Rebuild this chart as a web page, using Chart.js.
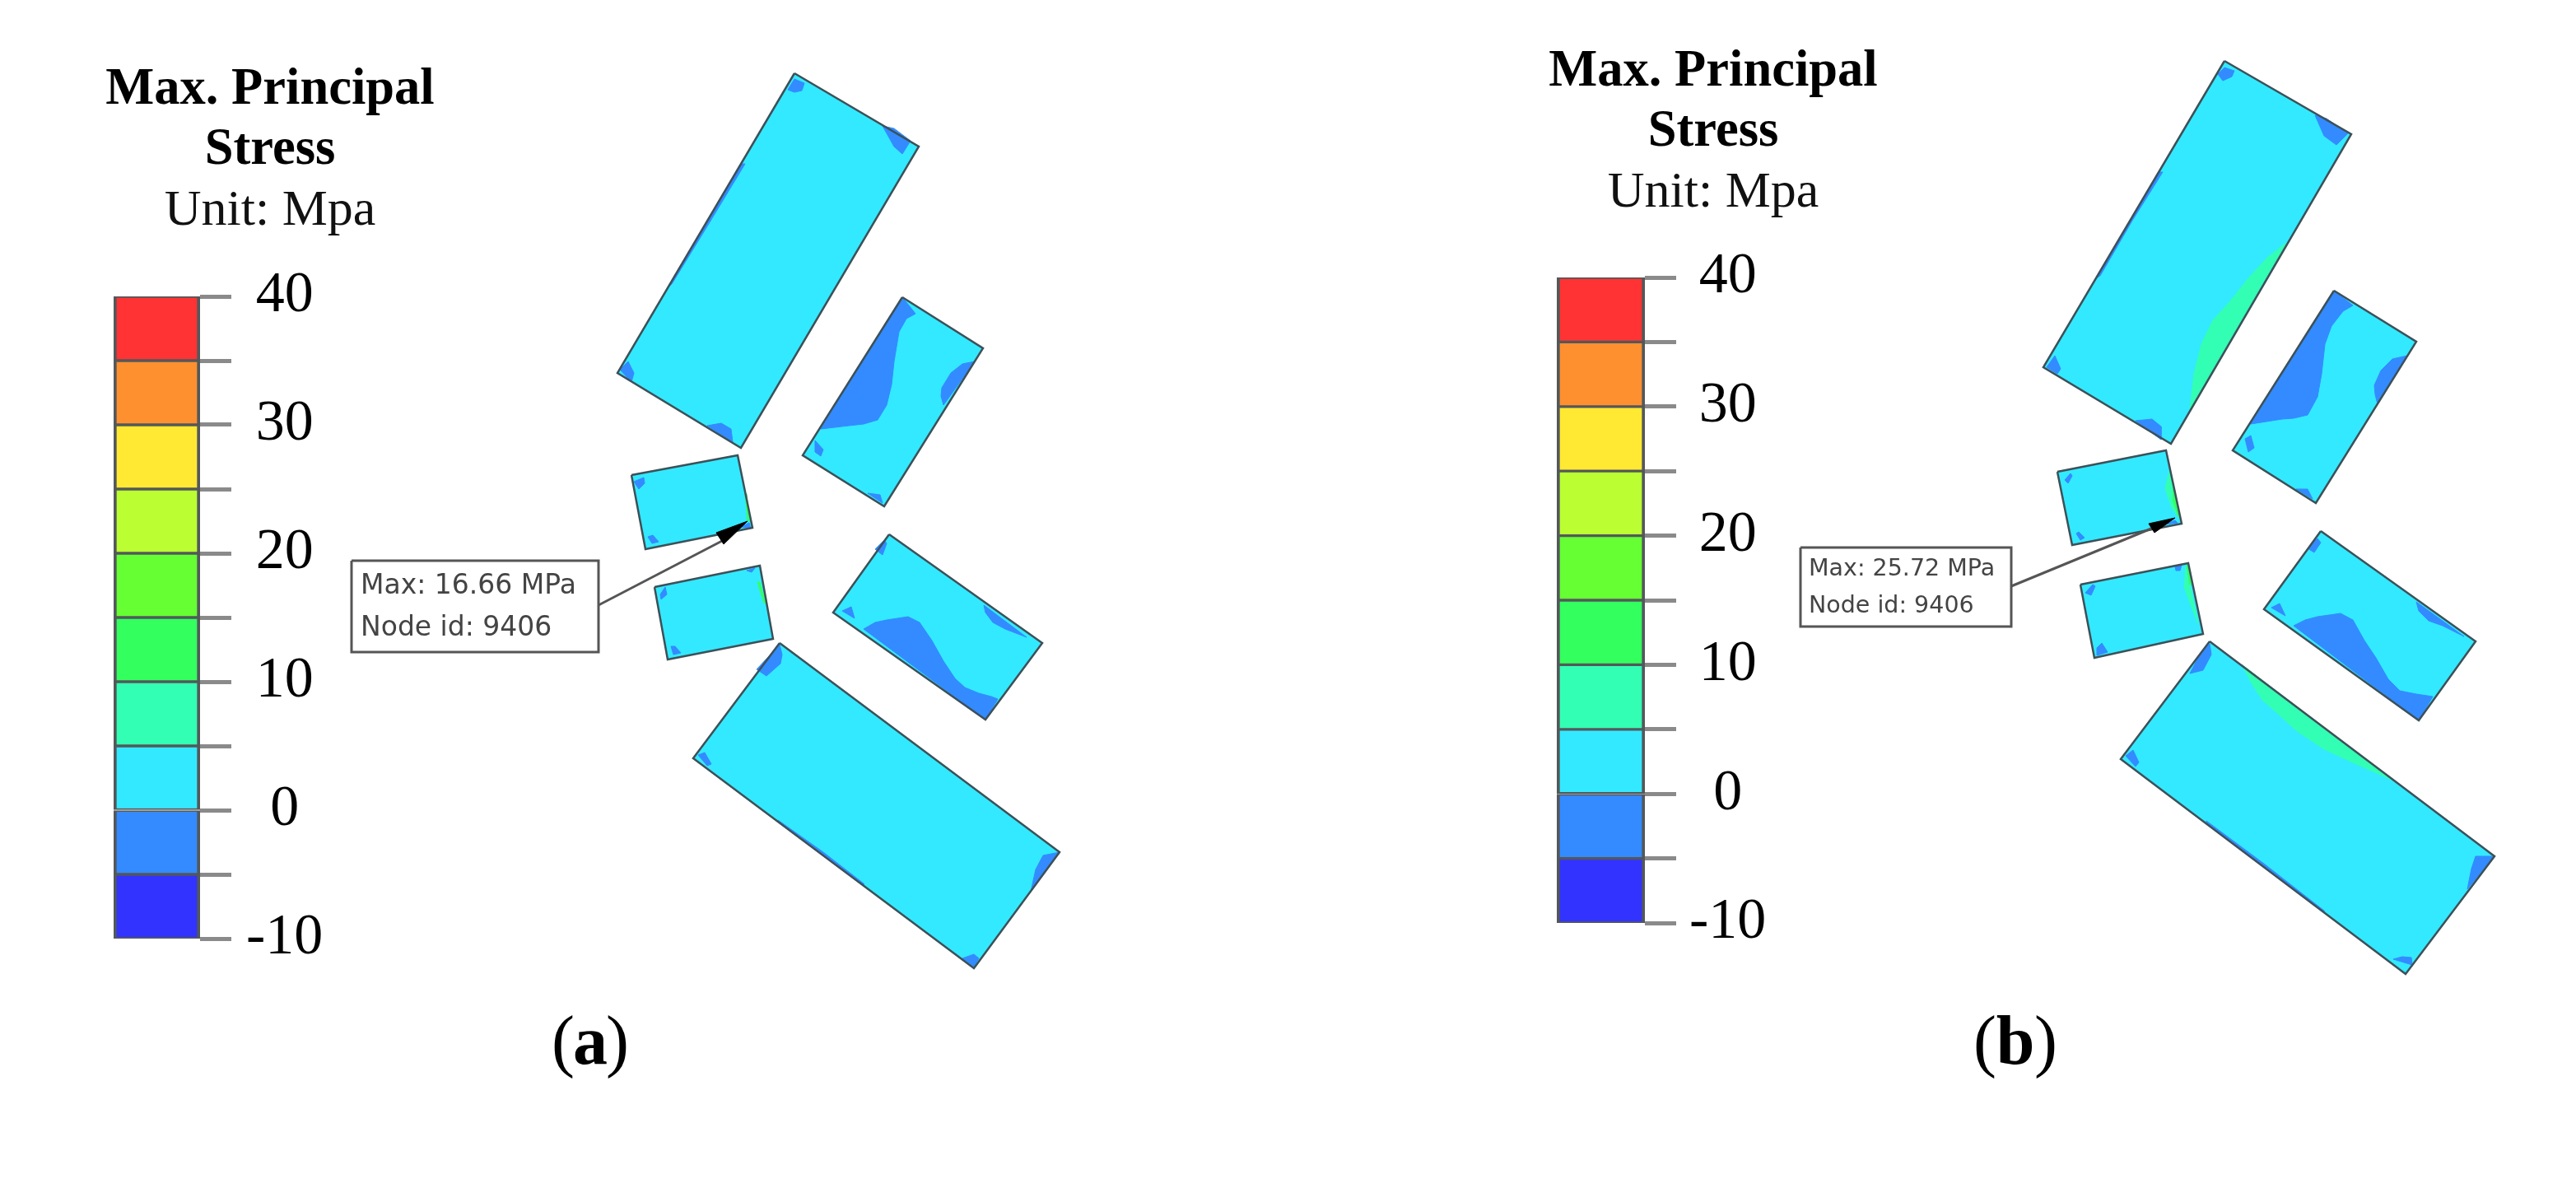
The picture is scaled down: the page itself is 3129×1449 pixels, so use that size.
<!DOCTYPE html>
<html>
<head>
<meta charset="utf-8">
<title>Max. Principal Stress</title>
<script src="https://cdn.jsdelivr.net/npm/chart.js@4"></script>
<style>
    html, body { margin: 0; padding: 0; background: #fff; overflow: hidden; }
    canvas { position: absolute; }
</style>
</head>
<body>
<canvas id="blocks" width="3129" height="1449" style="left:0;top:0"></canvas>
<canvas id="scaleA"></canvas>
<canvas id="scaleB"></canvas>
<script>
// colour scale
const bandEdges = [-10, -5, 0, 5, 10, 15, 20, 25, 30, 35, 40];
const bandColors = ['#3333ff', '#338bff', '#33e9ff', '#33ffb4', '#33ff5f', '#66ff33', '#bbff33', '#ffe933', '#ff9030', '#ff3333'];
const tickLabels = ['-10', '0', '10', '20', '30', '40'];

// texts
const titleBold = ['Max. Principal', 'Stress'];
const titleUnit = 'Unit: Mpa';
const calloutA = ['Max: 16.66 MPa', 'Node id: 9406'];
const calloutB = ['Max: 25.72 MPa', 'Node id: 9406'];

// panel (a), corners
const outlinesA = [
    [[965, 89], [1116, 178], [900, 544], [750, 453]],
    [[1096, 361], [1194, 423], [1074, 615], [975, 553]],
    [[767, 577], [896, 553], [914, 641], [784, 667]],
    [[795, 713], [923, 687], [939, 776], [811, 801]],
    [[1080, 649], [1266, 781], [1197, 874], [1012, 744]],
    [[947, 781], [1287, 1035], [1183, 1176], [842, 921]]
];
const lowPatchesA = [
    [[957, 109], [965, 96], [977, 101], [974, 110], [965, 112]],
    [[1072, 153], [1086, 156], [1106, 171], [1096, 187], [1086, 178]],
    [[753, 449], [763, 439], [770, 453], [767, 464]],
    [[859, 517], [876, 514], [888, 521], [890, 537]],
    [[900, 199], [811, 349], [816, 345], [862, 270], [905, 199]],
    [[1096, 361], [1112, 381], [1101, 387], [1092, 403], [1086, 439], [1083, 467], [1077, 492], [1066, 510], [1049, 515], [1031, 517], [997, 521]],
    [[1184, 439], [1169, 442], [1155, 453], [1144, 471], [1143, 481], [1146, 492]],
    [[990, 535], [1000, 546], [997, 554], [990, 549]],
    [[1054, 599], [1069, 601], [1072, 611]],
    [[770, 585], [782, 580], [783, 587], [776, 594]],
    [[787, 652], [793, 650], [800, 658], [792, 660]],
    [[900, 640], [910, 635], [912, 642]],
    [[802, 722], [808, 713], [810, 722], [803, 728]],
    [[815, 785], [820, 785], [827, 793], [818, 795]],
    [[907, 693], [917, 690], [913, 695]],
    [[1049, 764], [1063, 756], [1077, 753], [1103, 749], [1117, 756], [1132, 778], [1146, 803], [1160, 824], [1172, 835], [1189, 842], [1204, 846], [1212, 849], [1197, 874]],
    [[1195, 735], [1197, 744], [1206, 756], [1221, 764], [1247, 774]],
    [[1063, 667], [1074, 656], [1077, 660], [1072, 674]],
    [[1023, 742], [1034, 737], [1038, 751]],
    [[947, 783], [950, 795], [948, 806], [931, 821], [919, 813]],
    [[848, 917], [856, 914], [864, 928], [859, 930]],
    [[1287, 1035], [1267, 1039], [1258, 1056], [1252, 1083]],
    [[1169, 1164], [1183, 1159], [1189, 1164], [1183, 1174]],
    [[945, 996], [1000, 1035], [1049, 1073], [1049, 1076], [945, 998]]
];
const highPatchesA = [
    [[905, 600], [908, 633], [910, 633], [907, 600]],
    [[920, 707], [928, 733], [930, 732], [923, 707]]
];
const calloutBoxA = [[427, 681], [727, 681], [727, 792], [427, 792]];
const leaderA = [[727, 735], [877, 657]];
const arrowA = [[908, 633], [870, 647], [879, 661]];

// panel (b)
const outlinesB = [
    [[2702, 74], [2856, 163], [2637, 539], [2482, 446]],
    [[2835, 353], [2935, 415], [2813, 611], [2712, 547]],
    [[2499, 573], [2631, 547], [2650, 636], [2517, 662]],
    [[2527, 710], [2658, 684], [2676, 770], [2544, 799]],
    [[2819, 645], [3007, 779], [2938, 875], [2750, 740]],
    [[2684, 779], [3030, 1040], [2922, 1183], [2576, 922]]
];
const lowPatchesB = [
    [[2694, 90], [2702, 82], [2714, 86], [2711, 93], [2700, 98]],
    [[2812, 140], [2826, 144], [2852, 162], [2838, 176], [2823, 165]],
    [[2486, 446], [2496, 432], [2503, 448], [2499, 454]],
    [[2594, 511], [2614, 509], [2625, 518], [2625, 534]],
    [[2622, 209], [2546, 338], [2551, 335], [2590, 268], [2627, 209]],
    [[2835, 353], [2858, 371], [2846, 378], [2832, 396], [2824, 418], [2820, 454], [2815, 482], [2803, 504], [2786, 508], [2772, 509], [2734, 515]],
    [[2924, 432], [2906, 436], [2892, 450], [2884, 468], [2885, 479], [2888, 491]],
    [[2727, 533], [2734, 529], [2738, 544], [2731, 549]],
    [[2789, 594], [2803, 594], [2809, 606]],
    [[2508, 583], [2515, 575], [2517, 578], [2512, 587]],
    [[2522, 648], [2525, 646], [2532, 653], [2527, 656]],
    [[2630, 637], [2642, 632], [2645, 635]],
    [[2533, 720], [2542, 710], [2545, 712], [2540, 723]],
    [[2547, 787], [2553, 781], [2560, 792], [2547, 796]],
    [[2642, 688], [2650, 686], [2648, 693], [2643, 693]],
    [[2786, 760], [2800, 753], [2815, 749], [2843, 745], [2858, 753], [2872, 778], [2886, 799], [2901, 825], [2915, 839], [2935, 843], [2955, 846], [2938, 875]],
    [[2935, 731], [2938, 742], [2950, 754], [2967, 760], [2993, 773]],
    [[2803, 666], [2815, 654], [2819, 659], [2811, 671]],
    [[2759, 738], [2769, 733], [2776, 748]],
    [[2684, 782], [2686, 795], [2676, 814], [2660, 818], [2672, 795]],
    [[2582, 918], [2591, 911], [2598, 926], [2594, 931]],
    [[2680, 997], [2750, 1049], [2823, 1106], [2823, 1108], [2680, 1000]],
    [[3030, 1040], [3007, 1040], [3002, 1055], [2997, 1080]],
    [[2907, 1165], [2918, 1162], [2929, 1163], [2930, 1172]]
];
const midPatchesB = [
    [[2777, 295], [2754, 313], [2731, 338], [2708, 367], [2688, 389], [2674, 418], [2665, 454], [2660, 497]],
    [[2723, 807], [2735, 830], [2748, 850], [2767, 867], [2790, 888], [2823, 910], [2860, 927], [2907, 948]],
    [[2635, 573], [2630, 593], [2638, 617], [2648, 630]],
    [[2655, 688], [2653, 713], [2662, 737], [2670, 757]]
];
const highPatchesB = [
    [[2640, 590], [2640, 610], [2646, 628], [2648, 628]],
    [[2656, 687], [2660, 710], [2662, 710], [2658, 685]]
];
const calloutBoxB = [[2187, 665], [2443, 665], [2443, 761], [2187, 761]];
const leaderB = [[2443, 712], [2613, 642]];
const arrowB = [[2642, 629], [2610, 636], [2617, 647]];

function shape(points, fill, border, width) {
    const closed = points.concat([points[0]]);
    return {
        data: closed.map(p => ({ x: p[0], y: p[1] })),
        showLine: true,
        fill: 'shape',
        backgroundColor: fill,
        borderColor: border,
        borderWidth: width,
        pointRadius: 0,
        tension: 0
    };
}

function line(points) {
    return {
        data: points.map(p => ({ x: p[0], y: p[1] })),
        showLine: true,
        fill: false,
        borderColor: '#555',
        borderWidth: 3,
        pointRadius: 0
    };
}

function panel(outlines, low, mid, high, box, leader, arrow) {
    const list = [];
    outlines.forEach(o => list.push(shape(o, '#33e9ff', '#33e9ff', 1)));
    low.forEach(p => list.push(shape(p, '#338bff', '#338bff', 1)));
    mid.forEach(p => list.push(shape(p, '#33ffb4', '#33ffb4', 1)));
    high.forEach(p => list.push(shape(p, '#33ff66', '#33ff66', 1)));
    outlines.forEach(o => list.push(shape(o, 'rgba(0,0,0,0)', '#3d5058', 2.5)));
    list.push(shape(box, '#fff', '#555', 3));
    list.push(line(leader));
    list.push(shape(arrow, '#000', '#000', 1));
    return list;
}

const blockSets = panel(outlinesA, lowPatchesA, [], highPatchesA, calloutBoxA, leaderA, arrowA)
    .concat(panel(outlinesB, lowPatchesB, midPatchesB, highPatchesB, calloutBoxB, leaderB, arrowB));
// later entries have to end up on top
blockSets.forEach((d, i) => { d.order = blockSets.length - i; });

const serif = '"Liberation Serif", "Times New Roman", serif';

const textPlugin = {
    id: 'pageText',
    afterDatasetsDraw(chart) {
        const ctx = chart.ctx;
        const sx = chart.scales.x, sy = chart.scales.y;
        const put = (text, x, y, font, color, align) => {
            ctx.font = font;
            ctx.fillStyle = color;
            ctx.textAlign = align;
            ctx.textBaseline = 'middle';
            ctx.fillText(text, sx.getPixelForValue(x), sy.getPixelForValue(y));
        };
        const title = (cx, y0) => {
            put(titleBold[0], cx, y0, 'bold 62.5px ' + serif, '#000', 'center');
            put(titleBold[1], cx, y0 + 73, 'bold 62.5px ' + serif, '#000', 'center');
            put(titleUnit, cx, y0 + 147, '62px ' + serif, '#111', 'center');
        };
        const caption = (letter, cx, y, gap) => {
            put('(', cx - gap, y, '84px ' + serif, '#000', 'right');
            put(letter, cx, y, 'bold 84px ' + serif, '#000', 'center');
            put(')', cx + gap, y, '84px ' + serif, '#000', 'left');
        };
        ctx.save();
        title(328, 110);
        title(2081, 88);
        put(calloutA[0], 438, 712, '33px "DejaVu Sans"', '#444', 'left');
        put(calloutA[1], 438, 763, '33px "DejaVu Sans"', '#444', 'left');
        put(calloutB[0], 2197, 692, '28.5px "DejaVu Sans"', '#444', 'left');
        put(calloutB[1], 2197, 737, '28.5px "DejaVu Sans"', '#444', 'left');
        caption('a', 717, 1270, 19);
        caption('b', 2448, 1270, 23);
        ctx.restore();
    }
};

new Chart(document.getElementById('blocks'), {
    type: 'scatter',
    data: { datasets: blockSets },
    options: {
        responsive: false,
        animation: false,
        layout: { padding: 0 },
        plugins: { legend: { display: false }, tooltip: { enabled: false } },
        scales: {
            x: { type: 'linear', min: 0, max: 3129, display: false },
            y: { type: 'linear', min: 0, max: 1449, reverse: true, display: false }
        }
    },
    plugins: [textPlugin]
});

function colorScale(id, left, top, barWidth, barHeight, labelPad) {
    const canvas = document.getElementById(id);
    const axisWidth = 185, pad = 58, padLeft = 10;
    canvas.width = padLeft + barWidth + axisWidth;
    canvas.height = barHeight + pad * 2;
    canvas.style.left = (left - padLeft) + 'px';
    canvas.style.top = (top - pad) + 'px';
    new Chart(canvas, {
        type: 'bar',
        data: {
            labels: ['stress'],
            datasets: bandColors.map((c, i) => ({
                data: [[bandEdges[i], bandEdges[i + 1]]],
                backgroundColor: c,
                borderColor: '#53585a',
                borderWidth: { left: 4, right: 4, top: 2, bottom: 2 },
                borderSkipped: false,
                grouped: false,
                barPercentage: 1,
                categoryPercentage: 1
            }))
        },
        options: {
            responsive: false,
            animation: false,
            layout: { padding: { left: padLeft, top: pad, bottom: pad, right: 0 } },
            plugins: { legend: { display: false }, tooltip: { enabled: false } },
            scales: {
                x: { display: false },
                y: {
                    position: 'right',
                    min: -10,
                    max: 40,
                    afterFit(scale) { scale.width = axisWidth; },
                    border: { display: false },
                    grid: { drawOnChartArea: false, tickLength: 38, tickColor: '#8a8a8a', tickWidth: 5 },
                    ticks: {
                        stepSize: 5,
                        autoSkip: false,
                        padding: labelPad,
                        crossAlign: 'center',
                        color: '#000',
                        font: { family: serif, size: 70 },
                        callback: v => tickLabels.includes(String(v)) ? String(v) : ''
                    }
                }
            }
        }
    });
}

colorScale('scaleA', 138, 358, 105, 784, 18);
colorScale('scaleB', 1891, 337, 107, 784, 16);
</script>
</body>
</html>
